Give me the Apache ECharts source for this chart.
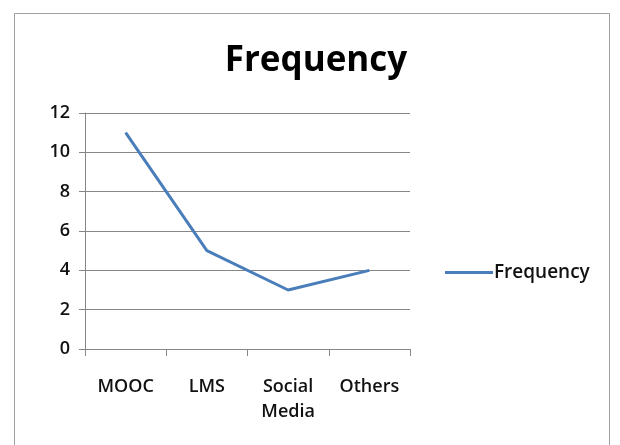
<!DOCTYPE html>
<html>
<head>
<meta charset="utf-8">
<script src="https://cdn.jsdelivr.net/npm/echarts@6/dist/echarts.min.js"></script>
<style>
  html, body { margin: 0; padding: 0; background: #fff; }
  #chart { width: 620px; height: 445px; }
</style>
</head>
<body>
<div id="chart"></div>
<script>
var categories = ['MOOC', 'LMS', 'Social\nMedia', 'Others'];
var frequency = [11, 5, 3, 4];
var yTicks = { min: 0, max: 12, interval: 2 };

var fontName = '"Open Sans", "Noto Sans", sans-serif';
var gray = '#878787';
var lineBlue = '#4a7ebb';

var chart = echarts.init(document.getElementById('chart'));
var option = {
    backgroundColor: '#fff',
    animation: false,
    title: {
        text: 'Frequency',
        left: 311,
        top: 39,
        textAlign: 'center',
        textStyle: {
            fontFamily: fontName,
            fontWeight: 'bold',
            fontSize: 35,
            color: '#000'
        }
    },
    graphic: [{
        type: 'rect',
        shape: { x: 14.5, y: 13.5, width: 595, height: 450 },
        style: { fill: 'none', stroke: '#a0a0a0', lineWidth: 1 },
        silent: true
    }],
    legend: {
        left: 440,
        top: 258,
        icon: 'rect',
        itemWidth: 48,
        itemHeight: 3,
        data: [{ name: 'Frequency', itemStyle: { color: lineBlue } }],
        textStyle: {
            fontFamily: fontName,
            fontSize: 19,
            fontWeight: 600,
            color: '#111',
            padding: [0, 0, 0, -4]
        }
    },
    grid: {
        left: 85,
        right: 210,
        top: 113,
        bottom: 96,
        containLabel: false
    },
    xAxis: {
        type: 'category',
        data: categories,
        boundaryGap: true,
        axisLine: { lineStyle: { color: gray, width: 1 } },
        axisTick: { show: true, length: 7, lineStyle: { color: gray } },
        axisLabel: {
            interval: 0,
            margin: 25,
            fontFamily: fontName,
            fontSize: 18,
            fontWeight: 600,
            color: '#111',
            lineHeight: 25
        },
        splitLine: { show: false }
    },
    yAxis: {
        type: 'value',
        min: yTicks.min,
        max: yTicks.max,
        interval: yTicks.interval,
        axisLine: { show: true, lineStyle: { color: gray, width: 1 } },
        axisTick: { show: true, length: 6, lineStyle: { color: gray } },
        axisLabel: {
            margin: 15,
            fontFamily: fontName,
            fontSize: 18,
            fontWeight: 600,
            color: '#111'
        },
        splitLine: { show: true, lineStyle: { color: gray, width: 1 } }
    },
    series: [{
        name: 'Frequency',
        type: 'line',
        data: frequency,
        symbol: 'none',
        lineStyle: { color: lineBlue, width: 3 },
        itemStyle: { color: lineBlue }
    }]
};
chart.setOption(option);
window.onresize = chart.resize;
</script>
</body>
</html>
